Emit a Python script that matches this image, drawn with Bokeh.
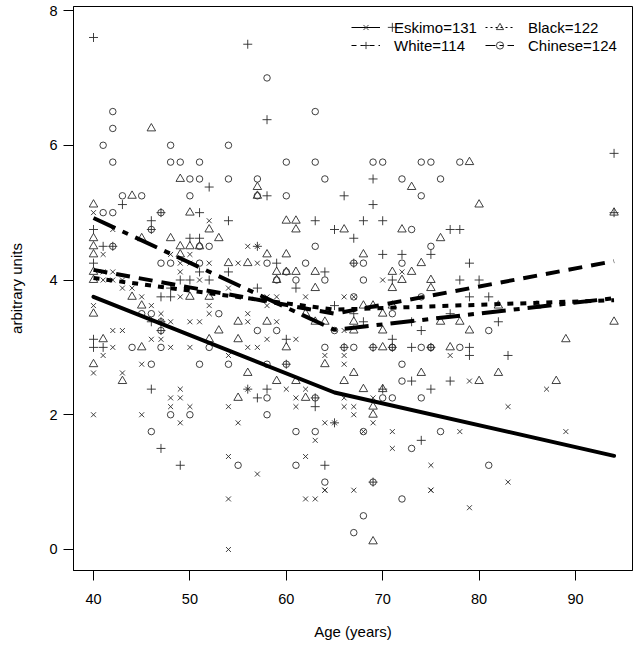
from bokeh.plotting import figure
from bokeh.models import Range1d, FixedTicker, Legend, LegendItem
from bokeh.embed import file_html
from bokeh.resources import INLINE

# ---------------- data ----------------
eskimo_age = [52, 40, 42, 56, 57, 41, 48, 50, 49, 50, 52, 55, 57, 41, 42, 49, 41, 42, 43, 51,
              43, 44, 54, 45, 49, 40, 46, 52, 47, 52, 56, 47, 48, 50, 51, 56, 42, 43, 46, 47,
              42, 48, 50, 56, 57, 41, 54, 45, 40, 43, 49, 56, 48, 49, 48, 50, 54, 40, 45, 49,
              55, 54, 57, 54, 54,
              72, 70, 62, 66, 67, 58, 59, 58, 59, 66, 58, 61, 64, 66, 66, 60, 62, 61, 66, 69,
              61, 66, 67, 67, 64, 65, 69, 68, 71, 63, 71, 62, 75, 64, 64, 67, 75, 75, 62, 63,
              77, 79, 87, 83, 78, 89, 83, 79]
eskimo_val = [4.88, 5.0, 4.75, 4.5, 4.5, 4.38, 4.38, 4.38, 4.25, 4.25, 4.25, 4.25, 4.25, 4.12, 4.12, 4.12, 4.0, 4.0, 4.0, 4.0,
              3.88, 3.88, 3.88, 3.75, 3.75, 3.62, 3.62, 3.62, 3.5, 3.5, 3.5, 3.38, 3.38, 3.38, 3.38, 3.38, 3.25, 3.25, 3.12, 3.12,
              3.0, 3.0, 3.0, 3.0, 3.0, 2.88, 2.88, 2.75, 2.62, 2.62, 2.38, 2.38, 2.25, 2.25, 2.12, 2.12, 2.12, 2.0, 2.0, 1.88,
              1.88, 1.38, 1.12, 0.75, 0.0,
              4.12, 4.0, 3.75, 3.75, 3.75, 3.75, 3.75, 3.62, 3.38, 3.25, 3.12, 3.12, 2.88, 2.88, 2.75, 2.38, 2.38, 2.25, 2.25, 2.25,
              2.12, 2.12, 2.12, 2.0, 1.88, 1.88, 1.88, 1.75, 1.75, 1.62, 1.5, 1.38, 1.25, 0.88, 0.88, 0.88, 0.88, 0.88, 0.75, 0.75,
              2.88, 2.5, 2.38, 2.12, 1.75, 1.75, 1.0, 0.62]

white_age = [40, 56, 71, 52, 43, 47, 51, 46, 54, 40, 46, 50, 51, 41, 42, 40, 51, 54, 49, 50,
             52, 48, 47, 48, 46, 47, 47, 40, 40, 41, 46, 57, 47, 49, 56,
             58, 69, 58, 66, 69, 63, 65, 68, 70, 67, 57, 70, 72, 75, 59, 67, 64, 71, 61, 57,
             65, 67, 68, 73, 74, 60, 71, 69, 71, 73, 75, 66, 73, 60, 58, 70, 75, 63, 63, 65,
             74, 64, 69,
             94, 94, 77, 78, 79, 78, 80, 79, 81, 77, 82, 79, 79, 83, 77]
white_val = [7.6, 7.5, 7.75, 5.38, 5.12, 5.0, 5.0, 4.88, 4.88, 4.75, 4.75, 4.62, 4.62, 4.5, 4.5, 4.25, 4.12, 4.12, 4.0, 4.0,
             4.0, 3.88, 3.75, 3.75, 3.38, 3.38, 3.25, 3.12, 3.0, 3.0, 2.38, 2.25, 1.5, 1.25, 2.38,
             6.38, 5.5, 5.25, 5.25, 5.12, 4.88, 4.75, 4.88, 4.88, 4.62, 4.5, 4.38, 4.38, 4.38, 4.25, 4.25, 4.12, 4.0, 3.88, 3.88,
             3.62, 3.5, 3.38, 3.38, 3.25, 3.12, 3.12, 3.0, 3.0, 3.0, 3.0, 3.0, 2.5, 2.75, 2.38, 2.38, 2.38, 2.25, 2.12, 1.88,
             1.62, 1.25, 1.0,
             5.88, 5.0, 4.75, 4.75, 4.25, 4.0, 4.0, 3.75, 3.75, 3.5, 3.38, 3.0, 2.88, 2.88, 2.5]

black_age = [46, 49, 57, 44, 57, 40, 50, 52, 40, 45, 48, 53, 40, 49, 50, 51, 40, 49, 54, 56,
             40, 40, 44, 50, 52, 45, 40, 53, 55, 41, 52, 55, 45, 40, 56, 43, 55,
             73, 79, 60, 61, 61, 66, 72, 76, 58, 60, 68, 74, 59, 60, 61, 63, 71, 73, 59, 72,
             75, 75, 71, 63, 68, 69, 70, 71, 62, 58, 63, 64, 67, 67, 76, 70, 60, 70, 64, 67,
             74, 59, 61, 66, 68, 70, 62, 69, 69, 69,
             80, 94, 82, 86, 78, 94, 79, 89, 77, 82, 80, 88]
black_val = [6.25, 5.5, 5.38, 5.25, 5.25, 5.12, 5.0, 4.75, 4.62, 4.62, 4.62, 4.62, 4.5, 4.5, 4.5, 4.5, 4.38, 4.38, 4.25, 4.25,
             4.12, 4.0, 3.75, 3.75, 3.75, 3.62, 3.5, 3.25, 3.38, 3.12, 3.12, 3.12, 3.0, 2.75, 2.62, 2.5, 2.25,
             5.38, 5.75, 4.88, 4.88, 4.75, 4.75, 4.75, 4.62, 4.38, 4.38, 4.38, 4.25, 4.12, 4.12, 4.12, 4.12, 4.12, 4.12, 4.0, 4.0,
             4.0, 3.88, 3.88, 3.88, 3.62, 3.62, 3.5, 3.62, 3.5, 3.38, 3.38, 3.38, 3.38, 3.25, 3.38, 3.25, 3.0, 3.0, 2.75, 2.62,
             2.62, 2.5, 2.5, 2.5, 2.38, 2.38, 2.25, 2.12, 2.0, 0.12,
             5.12, 5.0, 3.62, 3.62, 3.38, 3.38, 3.25, 3.12, 3.0, 2.62, 2.5, 2.5]

chinese_age = [42, 42, 41, 48, 54, 42, 48, 49, 51, 50, 51, 54, 57, 43, 45, 50, 57, 41, 42, 47,
               46, 42, 51, 52, 47, 48, 51, 45, 46, 53, 47, 47, 44, 47, 52, 46, 51, 54, 48, 50,
               46, 55,
               58, 63, 60, 63, 69, 70, 74, 75, 64, 72, 76, 60, 74, 73, 63, 75, 58, 62, 67, 68,
               72, 60, 59, 61, 64, 68, 67, 74, 71, 57, 59, 65, 64, 66, 67, 69, 71, 71, 74, 75,
               75, 58, 60, 72, 72, 58, 63, 70, 71, 74, 58, 61, 63, 68, 76, 73, 61, 64, 69, 72,
               68, 67,
               78, 81, 78, 81]
chinese_val = [6.5, 6.25, 6.0, 6.0, 6.0, 5.75, 5.75, 5.75, 5.75, 5.5, 5.5, 5.5, 5.5, 5.25, 5.25, 5.25, 5.25, 5.0, 5.0, 5.0,
               4.75, 4.5, 4.5, 4.5, 4.25, 4.25, 4.25, 3.5, 3.5, 3.5, 3.38, 3.25, 3.0, 3.0, 3.0, 2.75, 2.75, 2.75, 2.0, 2.0,
               1.75, 1.25,
               7.0, 6.5, 5.75, 5.75, 5.75, 5.75, 5.75, 5.75, 5.5, 5.5, 5.5, 5.25, 5.25, 4.75, 4.5, 4.5, 4.25, 4.25, 4.25, 4.25,
               4.25, 4.12, 4.0, 4.0, 4.0, 4.0, 3.75, 3.75, 3.5, 3.25, 3.25, 3.25, 3.0, 3.0, 3.0, 3.0, 3.0, 3.0, 3.0, 3.0,
               3.0, 2.75, 2.75, 2.75, 2.5, 2.25, 2.25, 2.25, 2.25, 2.25, 2.0, 1.75, 1.75, 1.75, 1.75, 1.5, 1.25, 1.0, 1.0, 0.75,
               0.5, 0.25,
               5.75, 3.25, 3.0, 1.25]

# piecewise-linear fits (knot at 65)
fit_age = [40, 65, 94]
eskimo_fit = [3.75, 2.33, 1.39]
white_fit = [4.15, 3.50, 4.28]
black_fit = [4.03, 3.56, 3.70]
chinese_fit = [4.92, 3.26, 3.73]

labels = ["Eskimo=131", "White=114", "Black=122", "Chinese=124"]
x_ticks = [40, 50, 60, 70, 80, 90]
y_ticks = [0, 2, 4, 6, 8]

FONT = "Liberation Sans"
PT = "#2a2a2a"
NAN = float("nan")

p = figure(width=640, height=648, output_backend="svg", toolbar_location=None,
           x_range=Range1d(37.925, 95.913), y_range=Range1d(-0.312, 8.06),
           min_border_left=73, min_border_right=8, min_border_top=6, min_border_bottom=78)
p.grid.visible = False
p.outline_line_color = "black"
p.outline_line_width = 1
p.background_fill_color = "white"
p.border_fill_color = "white"

for ax in (p.xaxis[0], p.yaxis[0]):
    ax.axis_line_color = "black"
    ax.major_tick_out = 10
    ax.major_tick_in = 0
    ax.minor_tick_line_color = None
    ax.major_tick_line_color = "black"
    ax.major_label_text_font = FONT
    ax.major_label_text_font_size = "14.5px"
    ax.major_label_text_color = "black"
    ax.axis_label_text_font = FONT
    ax.axis_label_text_font_size = "15px"
    ax.axis_label_text_font_style = "normal"
    ax.axis_label_text_color = "black"

p.xaxis.ticker = FixedTicker(ticks=x_ticks)
p.yaxis.ticker = FixedTicker(ticks=y_ticks)
p.xaxis.axis_label = "Age (years)"
p.yaxis.axis_label = "arbitrary units"
p.xaxis.major_label_standoff = 13
p.xaxis.axis_label_standoff = 16
p.yaxis.major_label_standoff = 6
p.yaxis.major_label_orientation = "horizontal"
p.yaxis.axis_label_standoff = 21

# points
sc_e = p.scatter(eskimo_age, eskimo_val, marker="x", size=7, line_color=PT, line_width=0.9)
sc_w = p.scatter(white_age, white_val, marker="cross", size=9, line_color=PT, line_width=0.9)
sc_b = p.scatter(black_age, black_val, marker="triangle", size=8.5, line_color=PT, fill_color=None, line_width=0.9)
sc_c = p.scatter(chinese_age, chinese_val, marker="circle", size=6.5, line_color=PT, fill_color=None, line_width=0.9)

# fitted lines
p.line(fit_age, eskimo_fit, line_color="black", line_width=4, line_join="round", line_cap="round")
p.line(fit_age, white_fit, line_color="black", line_width=4, line_dash="14 9", line_join="round")
p.line(fit_age, black_fit, line_color="black", line_width=4, line_dash="6 7", line_join="round")
p.line(fit_age, chinese_fit, line_color="black", line_width=4, line_dash="24 8 6 8", line_join="round")

# thin legend lines (placeholder NaN data: only drawn inside the legend)
lg_e = p.line([NAN, NAN], [NAN, NAN], line_color="black", line_width=1)
lg_w = p.line([NAN, NAN], [NAN, NAN], line_color="black", line_width=1, line_dash="5 4")
lg_b = p.line([NAN, NAN], [NAN, NAN], line_color="black", line_width=1, line_dash="2 3")
lg_c = p.line([NAN, NAN], [NAN, NAN], line_color="black", line_width=1, line_dash="10 4 4 4")

def make_legend(items, loc):
    lg = Legend(items=items, location=loc, orientation="vertical",
                border_line_color=None, background_fill_alpha=0,
                padding=0, margin=0, spacing=0,
                glyph_width=29, glyph_height=18, label_height=18, label_standoff=14,
                label_text_font=FONT, label_text_font_size="15px", label_text_color="black")
    p.add_layout(lg)
    return lg

make_legend([LegendItem(label=labels[0], renderers=[lg_e, sc_e]),
             LegendItem(label=labels[1], renderers=[lg_w, sc_w])], (278, 516))
make_legend([LegendItem(label=labels[2], renderers=[lg_b, sc_b]),
             LegendItem(label=labels[3], renderers=[lg_c, sc_c])], (412, 516))

open("out.html", "w").write(file_html(p, INLINE))
